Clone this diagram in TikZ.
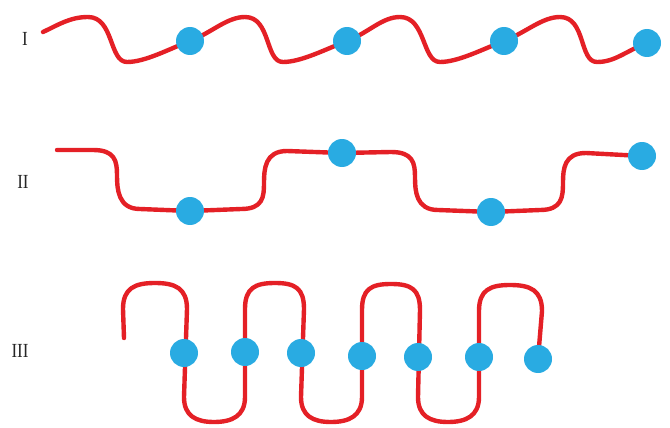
\documentclass[tikz,border=0pt]{standalone}
\usepackage{fontspec}
\setmainfont{Liberation Serif}
\definecolor{chainred}{RGB}{228,32,38}
\definecolor{beadblue}{RGB}{41,171,226}
\begin{document}
\begin{tikzpicture}[x=1pt,y=-1pt,
  chain/.style={draw=chainred,line width=4.4pt,line cap=round,line join=round},
  bead/.style={circle,fill=beadblue,minimum size=28pt,inner sep=0pt},
  lbl/.style={font=\fontsize{20}{22}\selectfont,text=black!85,xscale=0.85}]
\useasboundingbox (0,0) rectangle (670,428);
% Row I
\draw[chain] (43,32) .. controls +(15,-7) and +(-18,0) .. (88,17)
 .. controls +(26,0) and +(-18,0) .. (127,62)
 .. controls +(18,0) and +(-22,8.5) .. (190,41)
 .. controls +(22,-8.5) and +(-18,0) .. (245,17)
 .. controls +(26,0) and +(-18,0) .. (283,62)
 .. controls +(18,0) and +(-22,8.5) .. (347,41)
 .. controls +(22,-8.5) and +(-18,0) .. (400,17)
 .. controls +(26,0) and +(-18,0) .. (440,62)
 .. controls +(18,0) and +(-22,8.5) .. (504,41)
 .. controls +(22,-8.5) and +(-18,0) .. (560,17)
 .. controls +(26,0) and +(-18,0) .. (597,62)
 .. controls +(18,0) and +(-22,8.5) .. (647,43);
% Row II
\draw[chain] (57,150) -- (93,150) .. controls +(22,0) and +(0,-14) .. (117,175)
 .. controls +(0,14) and +(-22,0) .. (140,209) -- (190,211) -- (241,209)
 .. controls +(22,0) and +(0,14) .. (264,183)
 .. controls +(0,-14) and +(-22,0) .. (287,151) -- (342,153) -- (391,152)
 .. controls +(22,0) and +(0,-14) .. (415,177)
 .. controls +(0,14) and +(-22,0) .. (438,210) -- (491,212) -- (540,210)
 .. controls +(22,0) and +(0,14) .. (563,183)
 .. controls +(0,-14) and +(-22,0) .. (586,153) -- (642,156);
% Row III
\draw[chain] (124,338) -- (123,309)
 .. controls +(0,-21) and +(-20,0) .. (155,283) .. controls +(20,0) and +(0,-21) .. (187,309)
 -- (184,397) .. controls +(0,19) and +(-18,0) .. (214,422) .. controls +(18,0) and +(0,19) .. (245,397)
 -- (245,309) .. controls +(0,-21) and +(-20,0) .. (275,283) .. controls +(20,0) and +(0,-21) .. (304,309)
 -- (301,397) .. controls +(0,19) and +(-18,0) .. (331,422) .. controls +(18,0) and +(0,19) .. (362,397)
 -- (362,310) .. controls +(0,-21) and +(-20,0) .. (391,284) .. controls +(20,0) and +(0,-21) .. (420,310)
 -- (418,397) .. controls +(0,19) and +(-18,0) .. (448,422) .. controls +(18,0) and +(0,19) .. (479,397)
 -- (479,311) .. controls +(0,-21) and +(-20,0) .. (510,285) .. controls +(20,0) and +(0,-21) .. (542,311)
 -- (538,359);
% beads
\node[bead] (a1) at (190,41) {};
\node[bead] (a2) at (347,41) {};
\node[bead] (a3) at (504,41) {};
\node[bead] (a4) at (647,43) {};
\node[bead] (b1) at (190,211) {};
\node[bead] (b2) at (342,153) {};
\node[bead] (b3) at (491,212) {};
\node[bead] (b4) at (642,156) {};
\node[bead] (c1) at (184,353) {};
\node[bead] (c2) at (245,352) {};
\node[bead] (c3) at (301,353) {};
\node[bead] (c4) at (362,356) {};
\node[bead] (c5) at (418,357) {};
\node[bead] (c6) at (479,357) {};
\node[bead] (c7) at (538,359) {};
% labels
\node[lbl] (l1) at (25,39) {I};
\node[lbl] (l2) at (23,182) {II};
\node[lbl] (l3) at (20,351) {III};
\end{tikzpicture}
\end{document}
